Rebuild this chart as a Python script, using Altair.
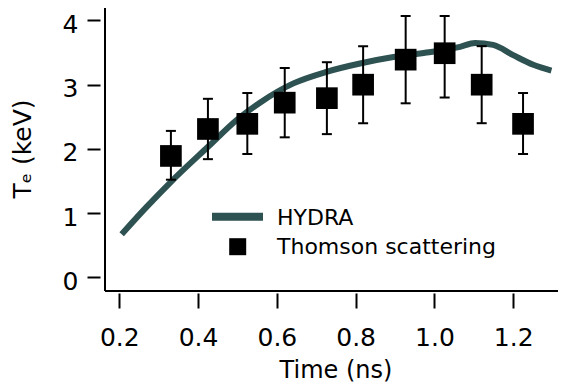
import altair as alt
import pandas as pd

# HYDRA simulation curve
hydra_t = [0.206, 0.27, 0.33, 0.43, 0.498, 0.557, 0.642, 0.726, 0.811, 0.896, 0.98, 1.065, 1.103, 1.149, 1.20, 1.251, 1.297]
hydra_te = [0.67, 1.10, 1.48, 2.06, 2.45, 2.72, 3.02, 3.20, 3.33, 3.43, 3.50, 3.59, 3.65, 3.62, 3.46, 3.31, 3.22]

# Thomson scattering measurements
ts_t = [0.331, 0.425, 0.525, 0.620, 0.727, 0.819, 0.927, 1.026, 1.120, 1.225]
ts_te = [1.89, 2.31, 2.39, 2.72, 2.79, 3.00, 3.39, 3.49, 3.00, 2.39]
ts_hi = [2.28, 2.78, 2.87, 3.26, 3.35, 3.60, 4.07, 4.07, 3.60, 2.87]
ts_lo = [1.52, 1.84, 1.92, 2.18, 2.23, 2.40, 2.71, 2.80, 2.40, 1.92]

x_ticks = [0.2, 0.4, 0.6, 0.8, 1.0, 1.2]
y_ticks = [0, 1, 2, 3, 4]
legend_labels = ["HYDRA", "Thomson scattering"]

W, H = 461, 285
FONT = "DejaVu Sans"
LINE_COLOR = "#2e5151"

hydra = pd.DataFrame({"t": hydra_t, "te": hydra_te})
ts = pd.DataFrame({"t": ts_t, "te": ts_te, "hi": ts_hi, "lo": ts_lo})
one = pd.DataFrame({"a": [0]})

xscale = alt.Scale(domain=[0.1637, 0.1637 + W / 393.9], nice=False, zero=False)
yscale = alt.Scale(domain=[-0.2136, 4.2256], nice=False, zero=False)

xaxis = alt.Axis(values=x_ticks, format=".1f", title="Time (ns)", grid=False,
                 domain=False, offset=2, tickSize=15, tickWidth=2, tickColor="black",
                 labelPadding=17, labelFontSize=25, labelFont=FONT, labelColor="black",
                 titleFontSize=24, titleFont=FONT, titleFontWeight="normal",
                 titleColor="black", titlePadding=8, titleX=230.5)
yaxis = alt.Axis(values=y_ticks, format="d", title="Tₑ (keV)", grid=False,
                 domain=False, offset=5, tickSize=13, tickWidth=2, tickColor="black",
                 labelPadding=9, labelOffset=4, labelFontSize=25, labelFont=FONT,
                 labelColor="black", titleFontSize=25, titleFont=FONT,
                 titleFontWeight="normal", titleColor="black", titlePadding=27)

line = alt.Chart(hydra).mark_line(color=LINE_COLOR, strokeWidth=6, interpolate="monotone").encode(
    x=alt.X("t:Q", scale=xscale, axis=xaxis),
    y=alt.Y("te:Q", scale=yscale, axis=yaxis),
)

bars = alt.Chart(ts).mark_rule(color="black", strokeWidth=2).encode(
    x=alt.X("t:Q", scale=xscale),
    y=alt.Y("lo:Q", scale=yscale),
    y2="hi:Q",
)
caps_hi = alt.Chart(ts).mark_tick(color="black", orient="horizontal", size=10, thickness=2, opacity=1).encode(
    x=alt.X("t:Q", scale=xscale),
    y=alt.Y("hi:Q", scale=yscale),
)
caps_lo = alt.Chart(ts).mark_tick(color="black", orient="horizontal", size=10, thickness=2, opacity=1).encode(
    x=alt.X("t:Q", scale=xscale),
    y=alt.Y("lo:Q", scale=yscale),
)
squares = alt.Chart(ts).mark_square(color="black", size=470, opacity=1).encode(
    x=alt.X("t:Q", scale=xscale),
    y=alt.Y("te:Q", scale=yscale),
)

# frame (left, top, bottom)
frame_left = alt.Chart(one).mark_rule(color="black", strokeWidth=2).encode(
    x=alt.value(0), y=alt.value(0), y2=alt.value(H))
frame_top = alt.Chart(one).mark_rule(color="black", strokeWidth=2).encode(
    x=alt.value(0), x2=alt.value(W), y=alt.value(0))
frame_bottom = alt.Chart(one).mark_rule(color="black", strokeWidth=2).encode(
    x=alt.value(0), x2=alt.value(W), y=alt.value(H))

# legend (plot-area pixel offsets; plot top is page y 6)
leg_line = alt.Chart(one).mark_rule(color=LINE_COLOR, strokeWidth=8).encode(
    x=alt.value(107), x2=alt.value(158), y=alt.value(210.7))
leg_sq = alt.Chart(one).mark_square(color="black", size=289, opacity=1).encode(
    x=alt.value(132.7), y=alt.value(240.7))
leg_t1 = alt.Chart(one).mark_text(text=legend_labels[0], align="left", baseline="middle",
                                  font=FONT, fontSize=22, color="black").encode(
    x=alt.value(172), y=alt.value(211.6))
leg_t2 = alt.Chart(one).mark_text(text=legend_labels[1], align="left", baseline="middle",
                                  font=FONT, fontSize=22, color="black").encode(
    x=alt.value(172), y=alt.value(241.2))

chart = alt.layer(
    line, bars, caps_hi, caps_lo, squares,
    frame_left, frame_top, frame_bottom,
    leg_line, leg_sq, leg_t1, leg_t2,
).properties(
    width=W, height=H,
    autosize=alt.AutoSizeParams(type="none"),
    padding={"left": 97, "top": -2, "right": -8, "bottom": 92},
).configure_view(stroke=None).configure_axis(
    titleFontWeight="normal"
).configure(background="white")

chart.save("out.html", embed_options={"renderer": "svg", "actions": False})
